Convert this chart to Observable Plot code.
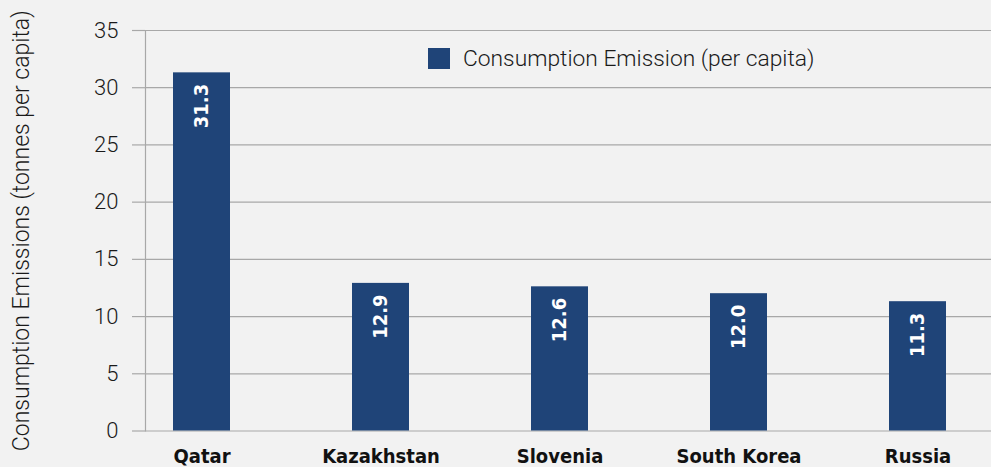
<!DOCTYPE html>
<html>
<head>
<meta charset="utf-8">
<script src="https://cdn.jsdelivr.net/npm/d3@7"></script>
<script src="https://cdn.jsdelivr.net/npm/@observablehq/plot@0.6"></script>
<style>
  html, body { margin: 0; padding: 0; background: #f2f2f2; }
  #wrap { position: relative; width: 991px; height: 467px; background: #f2f2f2; overflow: hidden; }
  #legend { position: absolute; left: 428px; top: 48px; height: 21px; display: flex; align-items: center; font-family: Roboto, sans-serif; font-weight: 300; font-size: 22.8px; color: #1a1a1a; }
  #legend .sw { width: 22px; height: 21px; background: #1f4478; margin-right: 13px; flex: none; }
</style>
</head>
<body>
<div id="wrap"></div>
<script>
const countries = ["Qatar", "Kazakhstan", "Slovenia", "South Korea", "Russia"];
const values = [31.3, 12.9, 12.6, 12.0, 11.3];
const yTicks = [0, 5, 10, 15, 20, 25, 30, 35];
const seriesName = "Consumption Emission (per capita)";
const yLabel = "Consumption Emissions (tonnes per capita)";
const barColor = "#1f4478";
const gridColor = "#a8a8a8";

const data = countries.map((c, i) => ({country: c, value: values[i]}));

const chart = Plot.plot({
  width: 991,
  height: 467,
  marginLeft: 145,
  marginRight: 0,
  marginTop: 30,
  marginBottom: 36.5,
  style: {background: "#f2f2f2", overflow: "visible"},
  x: {domain: countries, paddingInner: 0.68, paddingOuter: 0.2, align: 0.38, label: null},
  y: {domain: [0, 35], ticks: yTicks, label: null},
  marks: [
    Plot.gridY(yTicks, {stroke: gridColor, strokeOpacity: 1, strokeWidth: 1.2}),
    Plot.frame({anchor: "left", stroke: gridColor, strokeWidth: 1.2}),
    Plot.axisY(yTicks, {
      tickSize: 13, tickPadding: 14, stroke: gridColor, strokeWidth: 1.2,
      fontSize: 22, fontFamily: "Roboto", fontWeight: 300, fill: "#1a1a1a", label: null
    }),
    Plot.axisX({
      tickSize: 0, tickPadding: 18, fontSize: 20, fontFamily: "DejaVu Sans Condensed, DejaVu Sans",
      fontWeight: "bold", fill: "#111", label: null
    }),
    Plot.barY(data, {x: "country", y: "value", fill: barColor}),
    Plot.text(data, {
      x: "country", y: "value", text: d => d.value.toFixed(1),
      rotate: -90, textAnchor: "end", lineAnchor: "middle", dy: 11,
      fill: "white", fontSize: 20, fontWeight: "bold", fontFamily: "DejaVu Sans Condensed, DejaVu Sans"
    }),
    Plot.text([yLabel], {
      frameAnchor: "left", rotate: -90, text: d => d, textAnchor: "middle",
      lineAnchor: "top", dx: -133, fontSize: 23, fontFamily: "Roboto", fontWeight: 300, fill: "#1a1a1a"
    })
  ]
});

const wrap = document.getElementById("wrap");
wrap.appendChild(chart);
const legend = document.createElement("div");
legend.id = "legend";
legend.innerHTML = `<div class="sw"></div><span></span>`;
legend.querySelector("span").textContent = seriesName;
wrap.appendChild(legend);
</script>
</body>
</html>
